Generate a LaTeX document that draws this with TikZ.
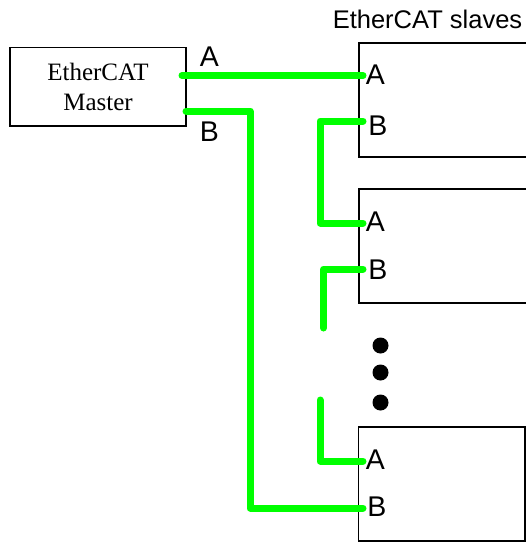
\documentclass[tikz,border=0pt]{standalone}
\usepackage{fontspec}
\setmainfont{Liberation Serif}
\setsansfont{Liberation Sans}
\begin{document}
\begin{tikzpicture}[x=1pt,y=-1pt,
  box/.style={draw=black,line width=1.2pt,fill=white,rectangle,inner sep=0pt},
  link/.style={draw={rgb,255:red,0;green,255;blue,0},line width=7pt,line cap=round,line join=round},
  port/.style={font=\sffamily\fontsize{28.5}{28.5}\selectfont,inner sep=0pt,anchor=center},
  dot/.style={circle,fill=black,inner sep=0pt,minimum size=16pt}]
\useasboundingbox (0,0) rectangle (526,542);
\clip (0,0) rectangle (526,542);

% master station
\node[box,minimum width=176pt,minimum height=78.5pt,align=center,
      font=\fontsize{25}{30}\selectfont] (master) at (98,86.75) {EtherCAT\\Master};

% slave stations (the upper two run past the right edge)
\node[box,minimum width=181pt,minimum height=114pt] (s1) at (449.5,100) {};
\node[box,minimum width=181pt,minimum height=114pt] (s2) at (449.5,246) {};
\node[box,minimum width=166.5pt,minimum height=114pt] (s3) at (441.75,484) {};

\node[font=\sffamily\fontsize{25.5}{25.5}\selectfont,anchor=base] (title) at (427.5,28) {EtherCAT slaves};

% port points
\coordinate (mA) at (182,75.5);
\coordinate (mB) at (186,111);
\coordinate (s1A) at (363,75.5);
\coordinate (s1B) at (363,121);
\coordinate (s2A) at (363,223);
\coordinate (s2B) at (363,269);
\coordinate (s3A) at (363,461);
\coordinate (s3B) at (363,508);
\coordinate (gapTop) at (323.5,328);
\coordinate (gapBot) at (320,400);

% cabling
\draw[link] (mA) -- (s1A);
\draw[link] (mB) -| (250,300) |- (s3B);
\draw[link] (s1B) -| (320,170) |- (s2A);
\draw[link] (s2B) -| (gapTop);
\draw[link] (gapBot) |- (s3A);

% port labels
\node[port] (lmA) at (209.5,57) {A};
\node[port] (lmB) at (209.5,132) {B};
\node[port] (l1A) at (375.5,75) {A};
\node[port] (l1B) at (378,126) {B};
\node[port] (l2A) at (375.5,222) {A};
\node[port] (l2B) at (378,270) {B};
\node[port] (l3A) at (375.5,460) {A};
\node[port] (l3B) at (377,507) {B};

% more slaves in between
\node[dot] (d1) at (380.5,345.5) {};
\node[dot] (d2) at (380.5,372.5) {};
\node[dot] (d3) at (380.5,402.5) {};
\end{tikzpicture}
\end{document}
